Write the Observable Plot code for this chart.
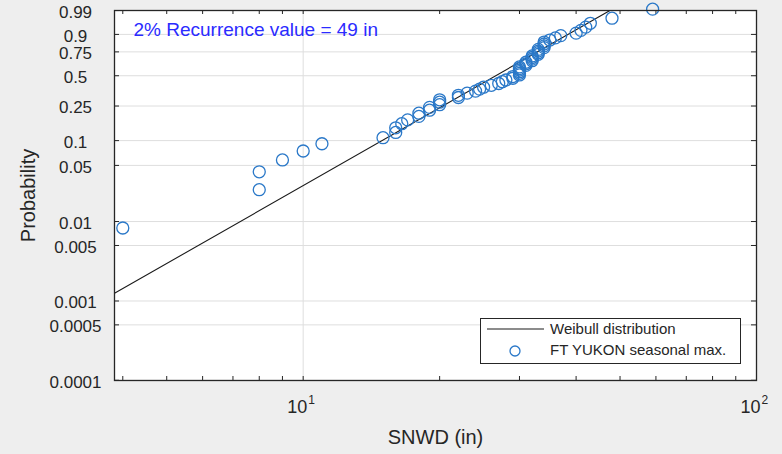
<!DOCTYPE html>
<html>
<head>
<meta charset="utf-8">
<script src="https://cdn.jsdelivr.net/npm/d3@7"></script>
<script src="https://cdn.jsdelivr.net/npm/@observablehq/plot@0.6"></script>
<style>
  html, body { margin: 0; padding: 0; background: #eeeeee; }
  #wrap { position: relative; width: 782px; height: 454px; font-family: "Liberation Sans", Arial, Helvetica, sans-serif; }
  #legend { position: absolute; left: 480px; top: 318px; width: 259px; height: 44px; border: 1px solid #262626; background: #ffffff; }
  #legend svg { position: absolute; left: 0; top: 0; }
</style>
</head>
<body>
<div id="wrap">
  <div id="chart"></div>
  <div id="legend"></div>
</div>
<script>
// Observed seasonal maximum snow depth (in), sorted
const snwd = [4, 8, 8, 9, 10, 11, 15, 16, 16, 16.5, 17, 18, 18, 19, 19, 20, 20, 20, 22, 22,
  23, 24, 24.5, 25, 26, 27, 27.5, 28, 29, 29, 30, 30, 30, 30, 30, 30, 31, 31, 31, 32,
  32, 32, 32, 33, 33, 33, 33, 34, 34, 34, 34, 35, 36, 37, 40, 41, 42, 43, 48, 59];
// Plotting-position probabilities
const prob = [0.0083, 0.0250, 0.0417, 0.0583, 0.0750, 0.0917, 0.1083, 0.1250, 0.1417, 0.1583,
  0.1750, 0.1917, 0.2083, 0.2250, 0.2417, 0.2583, 0.2750, 0.2917, 0.3083, 0.3250,
  0.3417, 0.3583, 0.3750, 0.3917, 0.4083, 0.4250, 0.4417, 0.4583, 0.4750, 0.4917,
  0.5083, 0.5250, 0.5417, 0.5583, 0.5750, 0.5917, 0.6083, 0.6250, 0.6417, 0.6583,
  0.6750, 0.6917, 0.7083, 0.7250, 0.7417, 0.7583, 0.7750, 0.7917, 0.8083, 0.8250,
  0.8417, 0.8583, 0.8750, 0.8917, 0.9083, 0.9250, 0.9417, 0.9583, 0.9750, 0.9917];
// Fitted Weibull distribution line (end points)
const fitX = [3.835, 47.5];
const fitP = [0.00125, 0.99];
// Axis ticks
const yTickValues = [0.0001, 0.0005, 0.001, 0.005, 0.01, 0.05, 0.1, 0.25, 0.5, 0.75, 0.9, 0.99];
const yTickLabels = ["0.0001", "0.0005", "0.001", "0.005", "0.01", "0.05", "0.1", "0.25", "0.5", "0.75", "0.9", "0.99"];
const xMajor = [10, 100];
const xMajorExp = ["1", "2"];
const xMinor = [4, 5, 6, 7, 8, 9, 10, 20, 30, 40, 50, 60, 70, 80, 90];
const xDomain = [3.835, 100];
const pDomain = [0.0000994, 0.99005];

const annotation = "2% Recurrence value = 49 in";
const xLabel = "SNWD (in)";
const yLabel = "Probability";
const legendLabels = ["Weibull distribution", "FT YUKON seasonal max."];

const weib = p => Math.log10(-Math.log(1 - p));

const points = snwd.map((x, i) => ({x, p: prob[i]}));
const fit = fitX.map((x, i) => ({x, p: fitP[i]}));
const yTicks = yTickValues.map((p, i) => ({p, label: yTickLabels[i]}));

const W = 782, H = 454, mL = 114, mR = 26, mT = 10, mB = 74;
const innerW = W - mL - mR, innerH = H - mT - mB;
const dark = "#262626";
const gridC = "#dedede";
const dotC = "#2a78c8";
const font = "'Liberation Sans', Arial, Helvetica, sans-serif";

const chart = Plot.plot({
  width: W, height: H,
  marginLeft: mL, marginRight: mR, marginTop: mT, marginBottom: mB,
  style: {background: "transparent", fontFamily: font, color: dark, overflow: "visible"},
  x: {type: "log", domain: xDomain, axis: null},
  y: {type: "linear", domain: pDomain.map(weib), axis: null},
  marks: [
    Plot.frame({fill: "#ffffff", stroke: null}),
    Plot.ruleY(yTicks, {y: d => weib(d.p), stroke: gridC, strokeWidth: 1}),
    Plot.ruleX(xMajor, {x: d => d, stroke: gridC, strokeWidth: 1}),
    Plot.tickY(yTicks, {y: d => weib(d.p), insetRight: innerW - 5, stroke: dark, strokeWidth: 1}),
    Plot.tickY(yTicks, {y: d => weib(d.p), insetLeft: innerW - 5, stroke: dark, strokeWidth: 1}),
    Plot.tickX(xMinor, {x: d => d, insetTop: innerH - 4, stroke: dark, strokeWidth: 1}),
    Plot.tickX(xMinor, {x: d => d, insetBottom: innerH - 4, stroke: dark, strokeWidth: 1}),
    Plot.line(fit, {x: "x", y: d => weib(d.p), stroke: "#1a1a1a", strokeWidth: 1.1}),
    Plot.dot(points, {x: "x", y: d => weib(d.p), r: 6, stroke: dotC, strokeWidth: 1.3, fill: "none"}),
    Plot.frame({stroke: dark, strokeWidth: 1.3}),
    Plot.text(yTicks, {y: d => weib(d.p), text: "label", frameAnchor: "left", dx: -39, dy: 2,
      textAnchor: "middle", lineAnchor: "middle", fontSize: 17, fill: dark}),
    Plot.text(xMajor, {x: d => d, text: () => "10", frameAnchor: "bottom", dx: -6, dy: 27,
      textAnchor: "middle", lineAnchor: "middle", fontSize: 18, fill: dark}),
    Plot.text(xMajor, {x: d => d, text: (d, i) => xMajorExp[i], frameAnchor: "bottom", dx: 5, dy: 20,
      textAnchor: "start", lineAnchor: "middle", fontSize: 12, fill: dark}),
    Plot.text([xLabel], {text: d => d, frameAnchor: "bottom", dy: 57, textAnchor: "middle",
      lineAnchor: "middle", fontSize: 20, fill: dark}),
    Plot.text([yLabel], {text: d => d, frameAnchor: "left", dx: -86, rotate: -90, textAnchor: "middle",
      lineAnchor: "middle", fontSize: 20, fill: dark}),
    Plot.text([annotation], {text: d => d, frameAnchor: "top-left", dx: 19, dy: 19, textAnchor: "start",
      lineAnchor: "middle", fontSize: 19, fill: "#2b2bff"})
  ]
});
document.getElementById("chart").appendChild(chart);

// Legend
const lg = d3.select("#legend").append("svg").attr("width", 259).attr("height", 44)
  .style("font-family", font);
lg.append("line").attr("x1", 6).attr("x2", 63).attr("y1", 10).attr("y2", 10)
  .attr("stroke", "#1a1a1a").attr("stroke-width", 1.1);
lg.append("circle").attr("cx", 34).attr("cy", 32).attr("r", 5)
  .attr("fill", "none").attr("stroke", dotC).attr("stroke-width", 1.3);
lg.selectAll("text.l").data(legendLabels).join("text").attr("class", "l")
  .attr("x", 69).attr("y", (d, i) => i === 0 ? 11 : 32)
  .attr("dominant-baseline", "middle")
  .attr("font-size", 15).attr("fill", dark).text(d => d);
</script>
</body>
</html>
